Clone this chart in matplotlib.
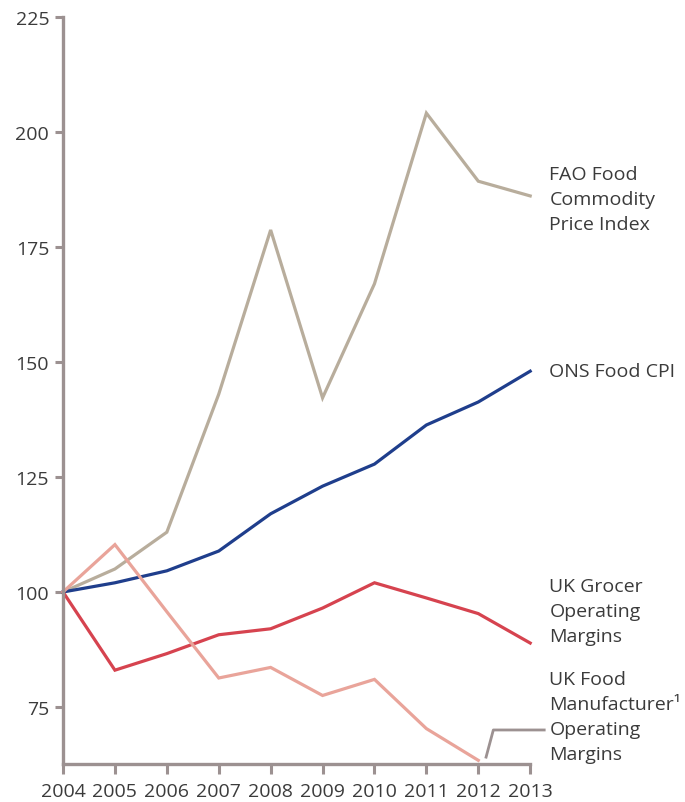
import matplotlib.pyplot as plt

plt.rcParams['font.family'] = ['Open Sans', 'DejaVu Sans']

years = [2004, 2005, 2006, 2007, 2008, 2009, 2010, 2011, 2012, 2013]
fao_index = [100, 105, 113, 143, 178.7, 142.2, 167, 204.1, 189.3, 186.1]
ons_cpi = [100, 102, 104.6, 108.9, 117, 123, 127.8, 136.3, 141.3, 148]
grocer_margins = [100, 83, 86.6, 90.7, 92, 96.5, 102, 98.7, 95.3, 88.9]
manufacturer_years = [2004, 2005, 2006, 2007, 2008, 2009, 2010, 2011, 2012]
manufacturer_margins = [100, 110.3, 95.7, 81.3, 83.6, 77.5, 81, 70.3, 63.4]
y_ticks = [75, 100, 125, 150, 175, 200, 225]

axis_col = '#9c9191'
text_col = '#3b3b3b'
fs = 14

fig = plt.figure(figsize=(6.85, 8.03), dpi=100)
ax = fig.add_axes([0.092, 0.0473, 0.682, 0.9303])

ax.plot(years, fao_index, color='#b8ad9c', lw=2.3, solid_joinstyle='miter', clip_on=False)
ax.plot(years, ons_cpi, color='#1f3e8c', lw=2.3, solid_joinstyle='miter', clip_on=False)
ax.plot(years, grocer_margins, color='#d6434f', lw=2.3, solid_joinstyle='miter', clip_on=False)
ax.plot(manufacturer_years, manufacturer_margins, color='#e9a49a', lw=2.3,
        solid_joinstyle='miter', clip_on=False)

ax.set_xlim(2004, 2013)
ax.set_ylim(62.6, 225)
ax.set_xticks(years)
ax.set_yticks(y_ticks)

for s in ['top', 'right']:
    ax.spines[s].set_visible(False)
for s in ['left', 'bottom']:
    ax.spines[s].set_color(axis_col)
    ax.spines[s].set_linewidth(2.4)

ax.tick_params(axis='y', length=6, width=2.2, color=axis_col, pad=4,
               labelsize=fs, labelcolor=text_col)
ax.tick_params(axis='x', length=7, width=2.2, color=axis_col, pad=6,
               labelsize=fs, labelcolor=text_col)

# series labels to the right of the plot
lx = 2013.37
lab = dict(fontsize=fs, color=text_col, va='center', ha='left', linespacing=1.5)
ax.text(lx, 185.4, 'FAO Food\nCommodity\nPrice Index', **lab)
ax.text(lx, 148.0, 'ONS Food CPI', **lab)
ax.text(lx, 95.9, 'UK Grocer\nOperating\nMargins', **lab)
ax.text(lx, 73.0, 'UK Food\nManufacturer¹\nOperating\nMargins', **lab)

# leader line for the manufacturer label
ax.plot([2012.15, 2012.29, 2013.27], [64.1, 70, 70], color=axis_col, lw=2.0, clip_on=False)

fig.savefig('out.png', dpi=100)
